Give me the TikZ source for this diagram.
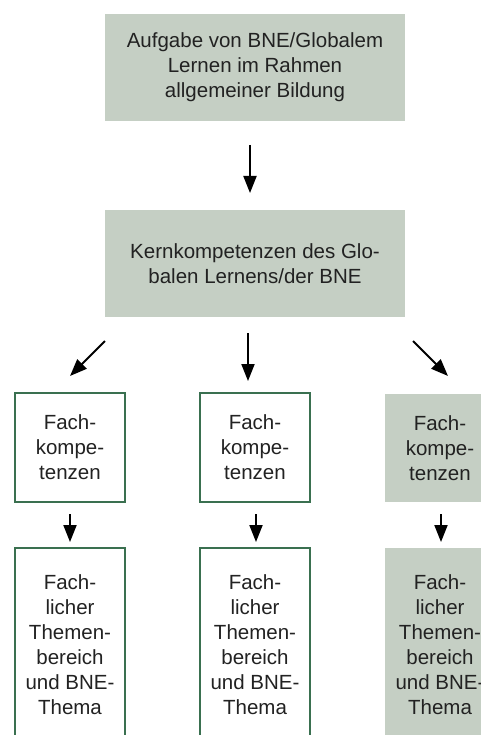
\documentclass[tikz,border=0pt]{standalone}
\usepackage{fontspec}
\setmainfont{Liberation Sans}
\usetikzlibrary{arrows.meta}
\definecolor{boxfill}{HTML}{C5CFC4}
\definecolor{boxline}{HTML}{3A7050}
\definecolor{txt}{HTML}{222222}
\tikzset{
  every node/.style={font=\fontsize{20.5}{25}\selectfont, text=txt, align=center, inner sep=0pt},
  filled/.style={fill=boxfill, draw=none},
  framed/.style={draw=boxline, line width=2.5pt, fill=white},
  flow/.style={-{Triangle[length=17pt,width=13pt]}, line width=2pt, black}
}
\begin{document}
\begin{tikzpicture}[x=1pt,y=-1pt]
  \useasboundingbox (0,0) rectangle (481,735);
  \begin{scope}
  \clip (0,0) rectangle (481,735);
  % upper boxes
  \node[filled, minimum width=300pt, minimum height=107pt] (task) at (255,67.5)
    {Aufgabe von BNE/Globalem\\Lernen im Rahmen\\allgemeiner Bildung};
  \node[filled, minimum width=300pt, minimum height=107pt] (core) at (255,263.5)
    {Kernkompetenzen des Glo-\\balen Lernens/der BNE};
  % subject competences
  \node[framed, minimum width=110pt, minimum height=109pt] (fkA) at (70,447.5)
    {Fach-\\kompe-\\tenzen};
  \node[framed, minimum width=110pt, minimum height=109pt] (fkB) at (255,447.5)
    {Fach-\\kompe-\\tenzen};
  \node[filled, minimum width=110pt, minimum height=108pt] (fkC) at (440,448)
    {Fach-\\kompe-\\tenzen};
  % subject topics
  \node[framed, minimum width=110pt, minimum height=193pt] (ftA) at (70,644.5)
    {Fach-\\licher\\Themen-\\bereich\\und BNE-\\Thema};
  \node[framed, minimum width=110pt, minimum height=193pt] (ftB) at (255,644.5)
    {Fach-\\licher\\Themen-\\bereich\\und BNE-\\Thema};
  \node[filled, minimum width=110pt, minimum height=194pt] (ftC) at (440,644.5)
    {Fach-\\licher\\Themen-\\bereich\\und BNE-\\Thema};
  \end{scope}
  % connectors
  \coordinate (a1) at (250,145);
  \coordinate (a2) at (250,193);
  \draw[flow] (a1) -- (a2);
  \coordinate (l1) at (105,341);
  \coordinate (l2) at (70,376);
  \draw[flow] (l1) -- (l2);
  \coordinate (m1) at (248,333);
  \coordinate (m2) at (248,381);
  \draw[flow] (m1) -- (m2);
  \coordinate (r1) at (413,341);
  \coordinate (r2) at (448,376);
  \draw[flow] (r1) -- (r2);
  \coordinate (sa1) at (70,514);
  \coordinate (sa2) at (70,542);
  \draw[flow] (sa1) -- (sa2);
  \coordinate (sb1) at (256,514);
  \coordinate (sb2) at (256,542);
  \draw[flow] (sb1) -- (sb2);
  \coordinate (sc1) at (441,514);
  \coordinate (sc2) at (441,542);
  \draw[flow] (sc1) -- (sc2);
\end{tikzpicture}
\end{document}
